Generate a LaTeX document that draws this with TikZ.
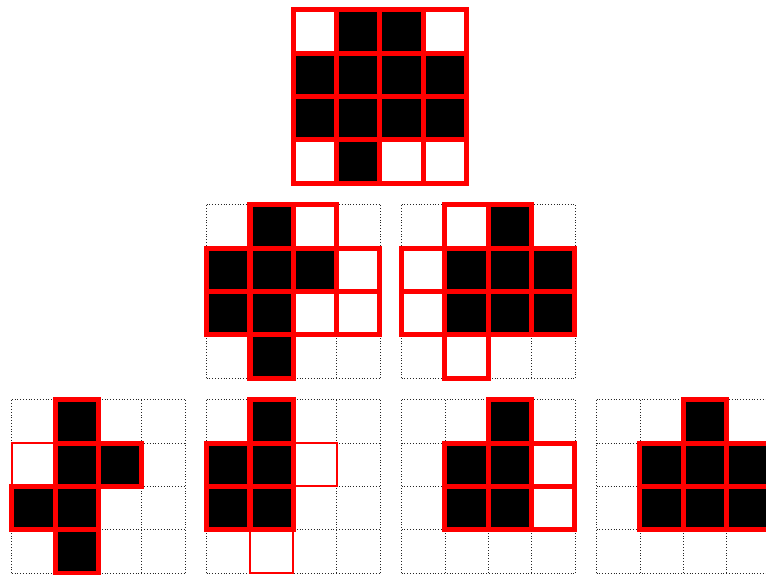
\documentclass[tikz,border=0pt]{standalone}
\usepackage{tikz}
\begin{document}
\begin{tikzpicture}[
  x=1cm, y=-1cm,
  gridline/.style={black!85, line width=0.5pt, dash pattern=on 0.5pt off 1.35pt},
  full/.style={draw=red, line width=3.3pt, fill=black},
  open/.style={draw=red, line width=3.3pt, fill=white},
  thinopen/.style={draw=red, line width=1.4pt, fill=white}
]
\useasboundingbox (-0.27,-0.226) rectangle (17.41,13.04);

% dotted 4x4 boards
\foreach \gx/\gy in {6.5/0, 4.5/4.5, 9/4.5, 0/9, 4.5/9, 9/9, 13.5/9}
  \draw[gridline, shift={(\gx,\gy)}] (0,0) grid (4,4);

% top: whole board
\begin{scope}[shift={(6.5,0)}]
  \foreach \c/\r in {0/0,3/0,0/3,2/3,3/3}
    \draw[open] (\c,\r) rectangle +(1,1);
  \foreach \c/\r in {1/0,2/0,0/1,1/1,2/1,3/1,0/2,1/2,2/2,3/2,1/3}
    \draw[full] (\c,\r) rectangle +(1,1);
\end{scope}

% middle row
\begin{scope}[shift={(4.5,4.5)}]
  \foreach \c/\r in {2/0,3/1,2/2,3/2}
    \draw[open] (\c,\r) rectangle +(1,1);
  \foreach \c/\r in {1/0,0/1,1/1,2/1,0/2,1/2,1/3}
    \draw[full] (\c,\r) rectangle +(1,1);
\end{scope}
\begin{scope}[shift={(9,4.5)}]
  \foreach \c/\r in {1/0,0/1,0/2,1/3}
    \draw[open] (\c,\r) rectangle +(1,1);
  \foreach \c/\r in {2/0,1/1,2/1,3/1,1/2,2/2,3/2}
    \draw[full] (\c,\r) rectangle +(1,1);
\end{scope}

% bottom row
\begin{scope}[shift={(0,9)}]
  \draw[thinopen] (0,1) rectangle +(1,1);
  \foreach \c/\r in {1/0,1/1,2/1,0/2,1/2,1/3}
    \draw[full] (\c,\r) rectangle +(1,1);
\end{scope}
\begin{scope}[shift={(4.5,9)}]
  \foreach \c/\r in {2/1,1/3}
    \draw[thinopen] (\c,\r) rectangle +(1,1);
  \foreach \c/\r in {1/0,0/1,1/1,0/2,1/2}
    \draw[full] (\c,\r) rectangle +(1,1);
\end{scope}
\begin{scope}[shift={(9,9)}]
  \foreach \c/\r in {3/1,3/2}
    \draw[open] (\c,\r) rectangle +(1,1);
  \foreach \c/\r in {2/0,1/1,2/1,1/2,2/2}
    \draw[full] (\c,\r) rectangle +(1,1);
\end{scope}
\begin{scope}[shift={(13.5,9)}]
  \foreach \c/\r in {2/0,1/1,2/1,3/1,1/2,2/2,3/2}
    \draw[full] (\c,\r) rectangle +(1,1);
\end{scope}
\end{tikzpicture}
\end{document}
